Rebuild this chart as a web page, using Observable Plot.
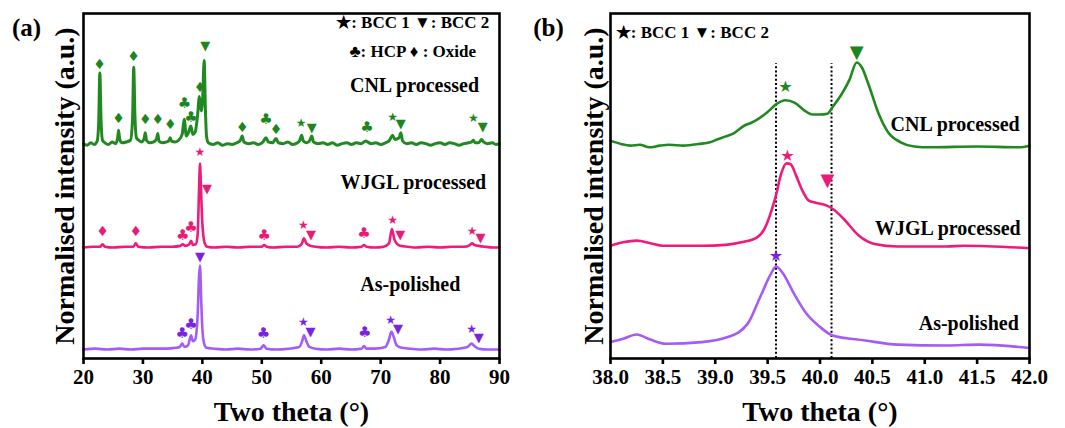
<!DOCTYPE html>
<html><head><meta charset="utf-8">
<script src="https://cdn.jsdelivr.net/npm/d3@7"></script>
<script src="https://cdn.jsdelivr.net/npm/@observablehq/plot@0.6"></script>
<style>
body{margin:0;background:#fff;}
#wrap{display:flex;width:1065px;height:428px;overflow:hidden;}
</style></head><body><div id="wrap"></div>
<script>
// ---------- DATA (two theta in degrees, normalised intensity) ----------
const seriesNames = ["CNL processed", "WJGL processed", "As-polished"];
const ticksA = [20, 30, 40, 50, 60, 70, 80, 90];
const ticksB = [38.0, 38.5, 39.0, 39.5, 40.0, 40.5, 41.0, 41.5, 42.0];
const refLinesB = [39.58, 40.11];

// Panel (a): full scans
const cnlA = [[20.0,0.01],[20.6,-0.01],[21.2,0.02],[21.8,0.00],[22.3,0.04],[22.55,0.25],[22.75,0.85],[22.95,0.30],[23.2,0.05],[23.6,0.02],[24.2,0.00],[24.8,0.03],[25.4,0.01],[25.75,0.08],[25.9,0.17],[26.1,0.06],[26.5,0.02],[27.2,0.03],[27.9,0.05],[28.25,0.30],[28.45,0.92],[28.65,0.35],[28.9,0.08],[29.3,0.05],[29.8,0.03],[30.2,0.07],[30.4,0.14],[30.6,0.05],[31.2,0.02],[31.8,0.03],[32.3,0.07],[32.5,0.13],[32.7,0.04],[33.3,0.02],[34.0,0.03],[34.4,0.05],[34.6,0.08],[34.8,0.04],[35.4,0.03],[36.0,0.05],[36.6,0.12],[36.95,0.30],[37.3,0.10],[37.7,0.15],[38.05,0.22],[38.4,0.12],[38.8,0.15],[39.2,0.35],[39.5,0.57],[39.8,0.40],[40.05,0.55],[40.3,1.00],[40.5,0.45],[40.7,0.10],[41.0,0.02],[41.8,0.00],[42.6,0.02],[43.4,-0.01],[44.2,0.01],[45.0,0.00],[45.8,0.02],[46.4,0.05],[46.7,0.10],[47.0,0.03],[47.8,0.01],[48.6,0.02],[49.4,0.00],[50.2,0.03],[50.7,0.08],[51.1,0.03],[51.8,0.02],[52.4,0.07],[52.8,0.02],[53.6,0.01],[54.4,0.03],[55.2,0.00],[56.0,0.02],[56.4,0.05],[56.7,0.11],[57.0,0.04],[57.6,0.02],[58.1,0.05],[58.4,0.10],[58.7,0.03],[59.5,0.01],[60.3,0.02],[61.1,0.00],[61.9,0.02],[62.7,-0.01],[63.5,0.01],[64.3,0.02],[65.1,0.00],[65.9,0.02],[66.7,0.01],[67.5,0.04],[67.8,0.03],[68.4,0.01],[69.2,0.02],[70.0,0.00],[70.8,0.02],[71.5,0.05],[72.0,0.11],[72.4,0.06],[73.1,0.08],[73.4,0.14],[73.7,0.04],[74.4,0.01],[75.2,0.02],[76.0,0.00],[76.8,0.02],[77.6,0.01],[78.4,-0.01],[79.2,0.01],[80.0,0.02],[80.8,0.00],[81.6,0.02],[82.4,0.01],[83.2,-0.01],[84.0,0.01],[84.8,0.02],[85.3,0.03],[85.6,0.05],[85.9,0.02],[86.5,0.02],[87.0,0.06],[87.3,0.03],[88.0,0.01],[88.8,0.02],[89.4,0.00],[90.0,0.01]];
const wjglA = [[20.0,0.00],[21.5,0.01],[22.8,0.01],[23.2,0.04],[23.6,0.01],[25.0,0.00],[27.0,0.01],[28.4,0.01],[28.8,0.05],[29.2,0.01],[31.0,0.00],[33.0,0.01],[35.0,0.01],[36.3,0.02],[36.7,0.04],[37.1,0.02],[37.8,0.04],[38.1,0.08],[38.4,0.03],[38.9,0.04],[39.2,0.15],[39.45,0.70],[39.6,1.00],[39.75,0.75],[39.95,0.35],[40.15,0.15],[40.4,0.05],[40.8,0.01],[42.0,0.00],[44.0,0.01],[46.0,0.00],[48.0,0.01],[50.0,0.01],[50.4,0.03],[50.8,0.01],[52.0,0.00],[54.0,0.01],[56.0,0.01],[56.7,0.04],[57.1,0.11],[57.5,0.05],[58.2,0.02],[59.0,0.01],[61.0,0.00],[63.0,0.01],[65.0,0.00],[66.8,0.01],[67.2,0.03],[67.6,0.01],[69.0,0.00],[70.5,0.01],[71.4,0.05],[71.9,0.22],[72.3,0.10],[72.8,0.04],[73.3,0.02],[74.5,0.01],[76.0,0.00],[78.0,0.01],[80.0,0.00],[82.0,0.01],[84.0,0.01],[85.0,0.03],[85.4,0.05],[85.8,0.03],[86.5,0.02],[87.5,0.01],[89.0,0.00],[90.0,0.00]];
const polishedA = [[20.0,0.00],[22.0,0.01],[24.0,0.00],[26.0,0.01],[28.0,0.00],[30.0,0.01],[32.0,0.01],[34.0,0.01],[35.5,0.02],[36.2,0.03],[36.6,0.07],[37.0,0.03],[37.6,0.05],[38.1,0.17],[38.4,0.10],[38.8,0.12],[39.2,0.40],[39.45,0.88],[39.6,1.00],[39.8,0.60],[40.0,0.25],[40.3,0.07],[40.7,0.02],[42.0,0.01],[44.0,0.00],[46.0,0.01],[48.0,0.00],[49.8,0.01],[50.3,0.05],[50.8,0.01],[52.5,0.00],[54.5,0.01],[56.3,0.03],[56.8,0.10],[57.1,0.17],[57.5,0.10],[58.0,0.03],[59.0,0.01],[61.0,0.00],[63.0,0.01],[65.0,0.00],[66.8,0.01],[67.2,0.04],[67.6,0.01],[69.0,0.01],[70.8,0.03],[71.4,0.12],[71.8,0.21],[72.2,0.15],[72.7,0.05],[73.5,0.02],[75.0,0.01],[77.0,0.00],[79.0,0.01],[81.0,0.00],[83.0,0.01],[84.6,0.03],[85.3,0.07],[85.8,0.04],[86.5,0.01],[88.0,0.00],[90.0,0.00]];

// Phase markers (phase, two theta, height)
const cnlMarksA = [["oxide",22.7,0.95],["oxide",25.9,0.31],["oxide",28.4,1.05],["oxide",30.4,0.30],["oxide",32.5,0.30],["oxide",34.6,0.24],["hcp",37.0,0.49],["hcp",38.1,0.32],["oxide",39.6,0.68],["bcc2",40.5,1.18],["oxide",46.7,0.20],["hcp",50.7,0.30],["oxide",52.4,0.18],["bcc1",56.6,0.25],["bcc2",58.4,0.20],["hcp",67.7,0.20],["bcc1",72.0,0.33],["bcc2",73.4,0.24],["bcc1",85.6,0.31],["bcc2",87.2,0.21]];
const wjglMarksA = [["oxide",23.2,0.19],["oxide",28.8,0.19],["hcp",36.7,0.15],["hcp",38.1,0.24],["bcc1",39.6,1.13],["bcc2",40.8,0.70],["hcp",50.4,0.15],["bcc1",57.0,0.27],["bcc2",58.3,0.15],["hcp",67.2,0.17],["bcc1",72.0,0.32],["bcc2",73.3,0.15],["bcc1",85.4,0.20],["bcc2",86.8,0.11]];
const polishedMarksA = [["hcp",36.6,0.19],["hcp",38.1,0.30],["bcc2",39.6,1.10],["hcp",50.3,0.19],["bcc1",57.0,0.33],["bcc2",58.2,0.21],["hcp",67.3,0.21],["bcc1",71.7,0.35],["bcc2",72.9,0.25],["bcc1",85.3,0.24],["bcc2",86.5,0.14]];

// Panel (b): zoom on 38-42 degrees
const cnlB = [[38.00,0.07],[38.10,0.03],[38.19,0.01],[38.28,0.02],[38.37,-0.01],[38.47,0.01],[38.56,0.02],[38.70,0.01],[38.84,0.03],[38.95,0.05],[39.03,0.09],[39.10,0.12],[39.18,0.16],[39.28,0.25],[39.34,0.28],[39.40,0.32],[39.50,0.41],[39.59,0.51],[39.67,0.55],[39.76,0.52],[39.85,0.43],[39.93,0.38],[40.00,0.38],[40.07,0.39],[40.12,0.47],[40.20,0.61],[40.28,0.79],[40.35,1.00],[40.40,0.94],[40.46,0.75],[40.56,0.39],[40.65,0.17],[40.77,0.05],[40.90,0.00],[41.05,-0.01],[41.50,0.00],[41.90,-0.01],[42.00,0.01]];
const wjglB = [[38.00,0.01],[38.12,0.05],[38.25,0.07],[38.38,0.04],[38.50,0.01],[38.87,0.01],[39.10,0.02],[39.25,0.05],[39.40,0.11],[39.47,0.21],[39.53,0.40],[39.58,0.61],[39.63,0.87],[39.68,0.99],[39.72,0.98],[39.77,0.85],[39.83,0.67],[39.89,0.55],[39.96,0.52],[40.06,0.49],[40.12,0.45],[40.24,0.31],[40.37,0.13],[40.52,0.03],[40.74,0.00],[41.21,0.00],[41.37,0.01],[42.00,-0.02]];
const polishedB = [[38.00,0.04],[38.12,0.08],[38.25,0.13],[38.38,0.07],[38.53,0.02],[38.87,0.04],[39.12,0.10],[39.31,0.26],[39.43,0.58],[39.53,0.85],[39.58,0.94],[39.65,0.85],[39.75,0.62],[39.87,0.38],[40.00,0.22],[40.12,0.12],[40.43,0.06],[40.74,0.01],[41.21,0.00],[41.52,0.01],[42.00,-0.03]];
const cnlMarksB = [["bcc1",39.67,0.71],["bcc2",40.35,1.12]];
const wjglMarksB = [["bcc1",39.69,1.08],["bcc2",40.07,0.79]];
const polishedMarksB = [["bcc1",39.58,1.07]];

// ---------- STYLE ----------
const lineColor = {cnl: "#208a20", wjgl: "#ee1a7c", pol: "#a45cf6"};
const markColor = {cnl: "#1e861e", wjgl: "#e81c78", pol: "#7a24e2"};
const glyph = {bcc1: "\u2605", bcc2: "\u25BC", hcp: "\u2663", oxide: "\u2666"};
const Y_TOP = 345 / 84;
const serif = '"Liberation Serif","Times New Roman",serif';

function rows(arr, off, key) { return arr.map(([t, v]) => ({t, y: v + off, key})); }
function mrows(arr, off, key) { return arr.map(([p, t, v]) => ({p, t, y: v + off, key})); }

function panel(cfg) {
  const lines = [];
  const marks = [];
  for (const s of cfg.series) {
    lines.push(Plot.line(rows(s.data, s.off, s.key), {x: "t", y: "y", stroke: lineColor[s.key], strokeWidth: s.key === "cnl" && cfg.noisy ? 3 : 2.6, curve: "monotone-x"}));
    marks.push(Plot.text(mrows(s.marks, s.off, s.key), {x: "t", y: "y", text: d => glyph[d.p], fill: markColor[s.key], fontFamily: "DejaVu Sans", fontWeight: "normal", fontSize: d => cfg.glyphSize[d.p]}));
  }
  return Plot.plot({
    width: cfg.width, height: 428,
    marginLeft: cfg.ml, marginRight: cfg.mr, marginTop: 13, marginBottom: 70,
    style: {fontFamily: serif, fontWeight: "bold", fontSize: "21px", background: "#fff", color: "#000"},
    x: {domain: cfg.domain},
    y: {domain: [0, Y_TOP], axis: null},
    marks: [
      ...(cfg.refs ? [Plot.ruleX(cfg.refs, {y1: 0, y2: 3.51, stroke: "#000", strokeWidth: 2, strokeDasharray: "2,2.2"})] : []),
      ...lines,
      ...marks,
      Plot.frame({stroke: "#000", strokeWidth: 2.6}),
      Plot.axisX({ticks: cfg.ticks, tickFormat: cfg.fmt, tickSize: 6, tickPadding: 5, strokeWidth: 2.6, label: null, fontSize: 21, fontWeight: "bold"}),
      Plot.text(["Two theta (°)"], {text: d => d, frameAnchor: "bottom", dy: 54, fontSize: 28, textAnchor: "middle", lineAnchor: "middle"}),
      Plot.text(["Normalised intensity (a.u.)"], {text: d => d, frameAnchor: "left", rotate: -90, dx: cfg.ydx, fontSize: 28, textAnchor: "middle", lineAnchor: "middle"}),
      Plot.text([cfg.tag], {text: d => d, frameAnchor: "top-left", dx: cfg.tagdx, dy: 14, fontSize: 25, textAnchor: "middle", lineAnchor: "middle"}),
      ...cfg.notes.map(n => Plot.text([n], {x: n.x, y: n.y, text: d => d.s, fontSize: n.fs, textAnchor: n.anchor || "middle"}))
    ]
  });
}

const a = panel({
  width: 530, ml: 83, mr: 31, domain: [20, 90], ticks: ticksA, fmt: d3.format("d"),
  ydx: -18, tag: "(a)", tagdx: -57, noisy: true,
  glyphSize: {bcc1: 12, bcc2: 13, hcp: 15, oxide: 14},
  series: [
    {key: "cnl", data: cnlA, marks: cnlMarksA, off: 2.548},
    {key: "wjgl", data: wjglA, marks: wjglMarksA, off: 1.321},
    {key: "pol", data: polishedA, marks: polishedMarksA, off: 0.107}
  ],
  notes: [
    {s: "\u2605: BCC 1 \u25BC: BCC 2", x: 75.4, y: 4.0, fs: 17},
    {s: "\u2663: HCP \u2666 : Oxide", x: 75.4, y: 3.655, fs: 17},
    {s: seriesNames[0], x: 75.7, y: 3.25, fs: 20},
    {s: seriesNames[1], x: 75.5, y: 2.10, fs: 20},
    {s: seriesNames[2], x: 75.0, y: 0.88, fs: 20}
  ]
});
const b = panel({
  width: 535, ml: 80, mr: 36, domain: [38, 42], ticks: ticksB, fmt: d3.format(".1f"),
  ydx: -16, tag: "(b)", tagdx: -62, refs: refLinesB,
  glyphSize: {bcc1: 16, bcc2: 18, hcp: 16, oxide: 16},
  series: [
    {key: "cnl", data: cnlB, marks: cnlMarksB, off: 2.524},
    {key: "wjgl", data: wjglB, marks: wjglMarksB, off: 1.333},
    {key: "pol", data: polishedB, marks: polishedMarksB, off: 0.155}
  ],
  notes: [
    {s: "\u2605: BCC 1 \u25BC: BCC 2", x: 38.05, y: 3.88, fs: 17, anchor: "start"},
    {s: seriesNames[0], x: 41.29, y: 2.79, fs: 20},
    {s: seriesNames[1], x: 41.22, y: 1.55, fs: 20},
    {s: seriesNames[2], x: 41.42, y: 0.42, fs: 20}
  ]
});
document.getElementById("wrap").append(a, b);
</script></body></html>
